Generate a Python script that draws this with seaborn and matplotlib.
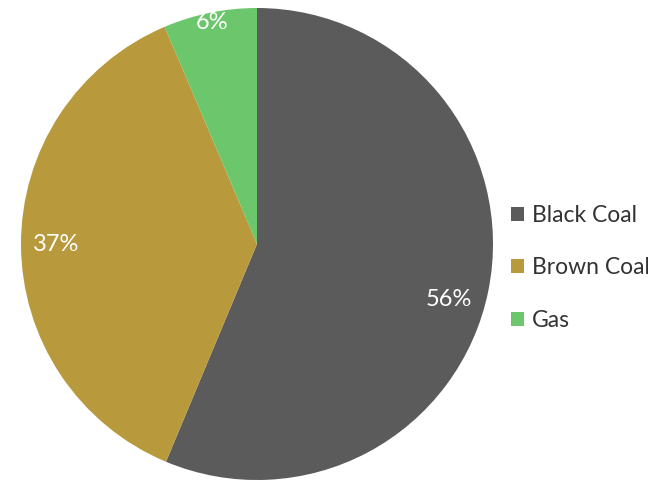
import matplotlib
matplotlib.use("Agg")
import matplotlib.pyplot as plt
import seaborn as sns

fuels = ["Black Coal", "Brown Coal", "Gas"]
shares = [56.3, 37.3, 6.4]
colors = ["#5b5b5b", "#b8993b", "#6cc66c"]

sns.set_theme(style="white")
plt.rcParams['font.family'] = ['Lato', 'DejaVu Sans']

fig = plt.figure(figsize=(6.48, 4.83), dpi=100)
W, H = 648, 483
cx, cy, r = 257, 244, 236
ax = fig.add_axes([(cx - r) / W, (H - cy - r) / H, 2 * r / W, 2 * r / H])

wedges, texts, autotexts = ax.pie(shares, colors=colors, startangle=90, counterclock=False,
                                  autopct=lambda p: '{:.0f}%'.format(p), pctdistance=0.85,
                                  wedgeprops=dict(linewidth=0),
                                  textprops=dict(color='white', fontsize=17, clip_on=False))
# Excel-style label placement tweaks
x, y = autotexts[0].get_position()
autotexts[0].set_position((x - 0.02, y - 0.07))
x, y = autotexts[2].get_position()
autotexts[2].set_position((x * 0.96 / 0.85, y * 0.96 / 0.85))
ax.set_xlim(-1, 1)
ax.set_ylim(-1, 1)
ax.set_aspect('equal')

fig.legend(wedges, fuels, loc='center left', bbox_to_anchor=(511 / W, 1 - 268 / H),
           frameon=False, fontsize=16.5, labelcolor='#333333', borderpad=0, borderaxespad=0,
           handlelength=0.55, handleheight=0.55, handletextpad=0.35, labelspacing=1.38)

plt.savefig('out.png', dpi=100)
